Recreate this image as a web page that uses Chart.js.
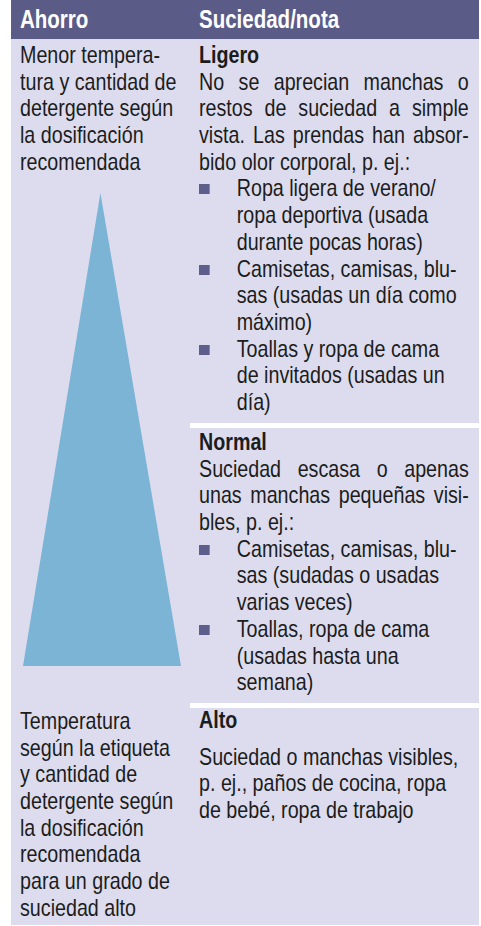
<!DOCTYPE html>
<html lang="es">
<head>
<meta charset="utf-8">
<script src="https://cdn.jsdelivr.net/npm/chart.js@4"></script>
<style>
  html, body { margin: 0; padding: 0; background: #fff; }
  body { width: 481px; height: 926px; position: relative; overflow: hidden;
         font-family: "Liberation Sans", Arial, sans-serif; color: #1c1c1c; }
  #table { position: absolute; left: 11px; top: 0; width: 468px; height: 925px; background: #dcdcee; }
  #head { position: absolute; left: 11px; top: 0; width: 468px; height: 39px; background: #5b5b88; }
  /* condensed look: Liberation Sans squeezed horizontally */
  .hd, .blk { transform: scaleX(0.82); transform-origin: 0 0; white-space: nowrap; }
  .hd { position: absolute; top: 0; line-height: 39px; font-size: 25px; font-weight: bold; color: #fff; }
  .sep { position: absolute; left: 190px; width: 289px; height: 5px; background: #fff; }
  .blk { position: absolute; font-size: 24px; line-height: 26.7px; }
  .blk div { height: 26.7px; }
  .wide { width: 329px; }
  .j { text-align: justify; text-align-last: justify; }
  .b { font-weight: bold; }
  .bul { position: relative; padding-left: 46px; }
  .bul.first::before { content: ""; position: absolute; left: 0; top: 9px; width: 13.4px; height: 10px; background: #5e5e8c; }
  #tri { position: absolute; left: 23px; top: 193px; }
</style>
</head>
<body>
<div id="table"></div>
<div id="head"></div>
<div class="hd" id="h0" style="left:20px"></div>
<div class="hd" id="h1" style="left:199px"></div>
<div class="sep" style="top:423px"></div>
<div class="sep" style="top:703px"></div>
<div class="blk" id="left0" style="left:20px; top:42px"></div>
<div class="blk" id="left1" style="left:20px; top:707px; line-height:27px"></div>
<div class="blk wide" id="r0" style="left:199px; top:42px"></div>
<div class="blk wide" id="r1" style="left:199px; top:429px"></div>
<div class="blk wide" id="r2" style="left:199px; top:707px"></div>
<canvas id="tri" width="158" height="473"></canvas>
<script>
const headers = ["Ahorro", "Suciedad/nota"];
const savingTop = ["Menor tempera-", "tura y cantidad de", "detergente según", "la dosificación", "recomendada"];
const savingBottom = ["Temperatura", "según la etiqueta", "y cantidad de", "detergente según", "la dosificación", "recomendada", "para un grado de", "suciedad alto"];
const levels = ["Ligero", "Normal", "Alto"];
const notes = [
  ["No se aprecian manchas o", "restos de suciedad a simple", "vista. Las prendas han absor-", "bido olor corporal, p. ej.:"],
  ["Suciedad escasa o apenas", "unas manchas pequeñas visi-", "bles, p. ej.:"],
  ["Suciedad o manchas visibles,", "p. ej., paños de cocina, ropa", "de bebé, ropa de trabajo"]
];
const items = [
  [["Ropa ligera de verano/", "ropa deportiva (usada", "durante pocas horas)"],
   ["Camisetas, camisas, blu-", "sas (usadas un día como", "máximo)"],
   ["Toallas y ropa de cama", "de invitados (usadas un", "día)"]],
  [["Camisetas, camisas, blu-", "sas (sudadas o usadas", "varias veces)"],
   ["Toallas, ropa de cama", "(usadas hasta una", "semana)"]],
  []
];
// triangle outline in cell units (0..1)
const triX = [0, 0.49, 1];
const triY = [0, 1, 0];

document.getElementById("h0").textContent = headers[0];
document.getElementById("h1").textContent = headers[1];

function addLine(el, text, cls) {
  const d = document.createElement("div");
  d.textContent = text;
  if (cls) d.className = cls;
  el.appendChild(d);
  return d;
}
savingTop.forEach(t => addLine(document.getElementById("left0"), t));
savingBottom.forEach(t => addLine(document.getElementById("left1"), t));

levels.forEach((lv, i) => {
  const el = document.getElementById("r" + i);
  addLine(el, lv, "b");
  if (i === 2) addLine(el, "").style.height = "10px";
  notes[i].forEach((t, k) => {
    addLine(el, t, (i < 2 && k < notes[i].length - 1) ? "j" : "");
  });
  items[i].forEach(it => {
    it.forEach((t, k) => addLine(el, t, k === 0 ? "bul first" : "bul"));
  });
});

new Chart(document.getElementById("tri"), {
  type: "line",
  data: {
    datasets: [{
      data: triX.map((x, i) => ({ x: x, y: triY[i] })),
      fill: "origin",
      backgroundColor: "#7bb4d5",
      borderWidth: 0,
      pointRadius: 0,
      tension: 0
    }]
  },
  options: {
    responsive: false,
    animation: false,
    layout: { padding: 0 },
    scales: {
      x: { type: "linear", min: 0, max: 1, display: false },
      y: { min: 0, max: 1, display: false }
    },
    plugins: { legend: { display: false }, tooltip: { enabled: false } }
  }
});
</script>
</body>
</html>
